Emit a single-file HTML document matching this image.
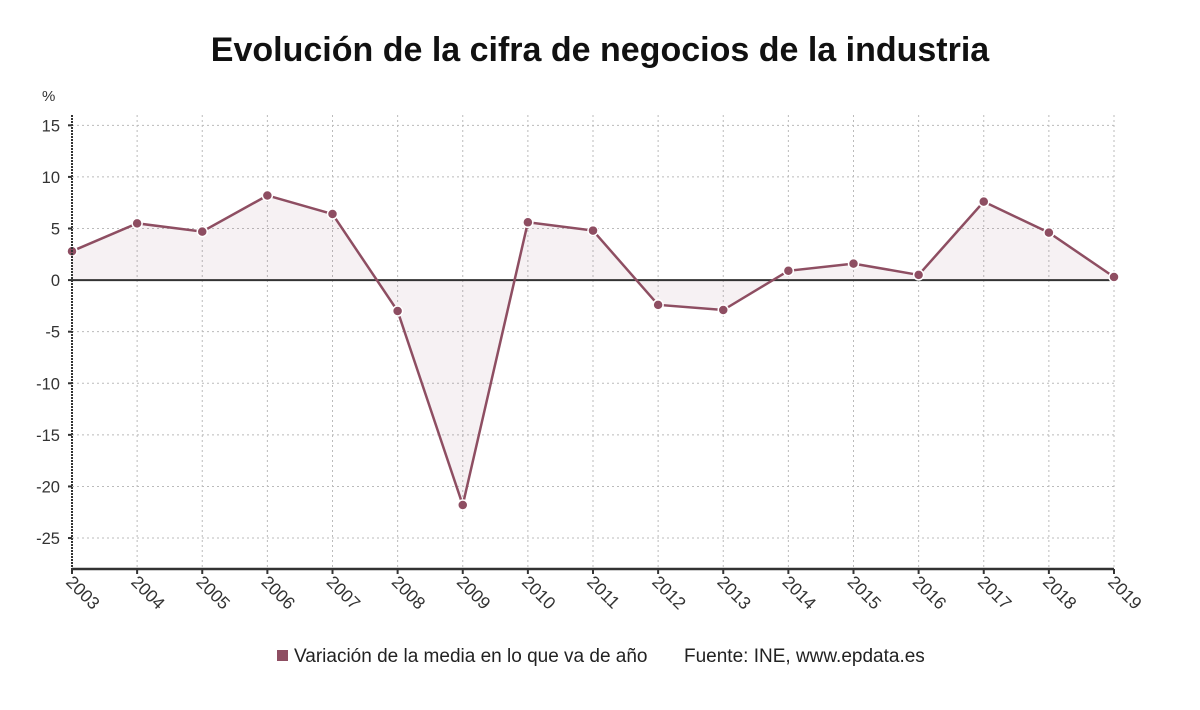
<!DOCTYPE html>
<html><head><meta charset="utf-8"><style>
body{margin:0;background:#fff;font-family:"Liberation Sans",sans-serif;}
</style></head><body>
<svg id="c" width="1200" height="705" xmlns="http://www.w3.org/2000/svg">
<text x="600" y="61" text-anchor="middle" font-size="34" font-weight="bold" fill="#111">Evolución de la cifra de negocios de la industria</text>
<text x="42" y="101" font-size="15" fill="#333">%</text>
<g id="grid"></g><g id="plot"></g><g id="axes"></g>
<rect x="277" y="650" width="11" height="11" fill="#8e4e62"/>
<text x="294" y="662" font-size="19" fill="#222">Variación de la media en lo que va de año</text>
<text x="684" y="662" font-size="19" fill="#222">Fuente: INE, www.epdata.es</text>
</svg>
<script>
const years=[2003,2004,2005,2006,2007,2008,2009,2010,2011,2012,2013,2014,2015,2016,2017,2018,2019];
const values=[2.8,5.5,4.7,8.2,6.4,-3.0,-21.8,5.6,4.8,-2.4,-2.9,0.9,1.6,0.5,7.6,4.6,0.3];
const yTicks=[15,10,5,0,-5,-10,-15,-20,-25];
const yMin=-28,yMax=16;
const X0=72,X1=1114,Y0=569,Y1=115;
const NS="http://www.w3.org/2000/svg";
const xs=i=>X0+(X1-X0)*i/(years.length-1);
const ys=v=>Y0-(v-yMin)/(yMax-yMin)*(Y0-Y1);
function mk(t,a,p){const e=document.createElementNS(NS,t);for(const k in a)e.setAttribute(k,a[k]);p.appendChild(e);return e;}
const grid=document.getElementById('grid'),plot=document.getElementById('plot'),axes=document.getElementById('axes');
yTicks.forEach(v=>{
 const l=mk('line',{x1:X0,x2:X1,y1:ys(v),y2:ys(v),stroke:'#bbb','stroke-dasharray':'2,3'},grid);
 
 
 const t=mk('text',{x:X0-12,y:ys(v)+6,'text-anchor':'end','font-size':16.5,fill:'#333'},axes);
 t.textContent=v;
 
 
 mk('line',{x1:X0-4,x2:X0,y1:ys(v),y2:ys(v),stroke:'#333','stroke-width':2},axes);
});
years.forEach((y,i)=>{
 if(i>0){const l=mk('line',{x1:xs(i),x2:xs(i),y1:Y1,y2:Y0,stroke:'#bbb','stroke-dasharray':'2,3'},grid);
 
 }
 mk('line',{x1:xs(i),x2:xs(i),y1:Y0,y2:Y0+5,stroke:'#333','stroke-width':2},axes);
 const t=mk('text',{x:0,y:0,'font-size':17.5,fill:'#333',transform:`translate(${xs(i)-7},${Y0+14}) rotate(45)`},axes);
 t.textContent=y;
 
 
});
let d=`M${xs(0)},${ys(0)}`;values.forEach((v,i)=>d+=` L${xs(i)},${ys(v)}`);d+=` L${xs(values.length-1)},${ys(0)}Z`;
const area=mk('path',{d:d,fill:'#8e4e62','fill-opacity':0.08},plot);


mk('line',{x1:X0,x2:X1,y1:ys(0),y2:ys(0),stroke:'#333','stroke-width':2},plot);
const pl=mk('polyline',{points:values.map((v,i)=>xs(i)+','+ys(v)).join(' '),fill:'none',stroke:'#8e4e62','stroke-width':2.5},plot);


values.forEach((v,i)=>{const c=mk('circle',{cx:xs(i),cy:ys(v),r:5,fill:'#8e4e62',stroke:'#fff','stroke-width':1.5},plot);
 
 });
mk('line',{x1:X0,x2:X0,y1:Y1,y2:Y0,stroke:'#333','stroke-width':2,'stroke-dasharray':'2,1'},axes);
mk('line',{x1:X0,x2:X1,y1:Y0,y2:Y0,stroke:'#333','stroke-width':2.5},axes);
</script>
</body></html>
